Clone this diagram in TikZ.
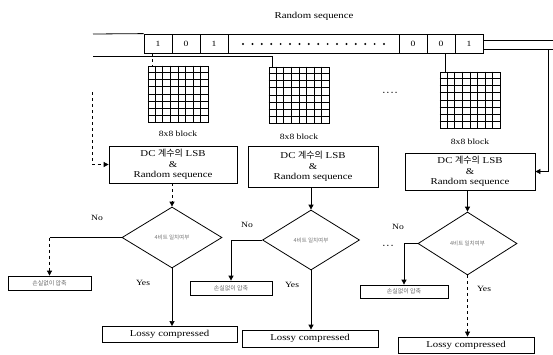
\documentclass[tikz,border=0pt]{standalone}
\usepackage{fontspec}
\setmainfont{Liberation Serif}[FakeStretch=1.2]
\newfontfamily\kr{Noto Sans CJK KR}
\usetikzlibrary{arrows.meta,shapes.geometric,calc}
% 8x8 grid inside a named rectangle node
\newcommand\blockgrid[1]{%
  \foreach \i in {1,...,7}{%
    \draw ($(#1.north west)!\i/8!(#1.north east)$) -- ($(#1.south west)!\i/8!(#1.south east)$);
    \draw ($(#1.north west)!\i/8!(#1.south west)$) -- ($(#1.north east)!\i/8!(#1.south east)$);
  }}
\newcommand\bdots[1]{{\fontsize{5}{5}\selectfont\foreach \j in {1,...,#1}{\textbullet\hspace{2pt}}}}
\begin{document}
\begin{tikzpicture}[x=1pt,y=-1pt,line width=0.8pt,
  every node/.style={font=\fontsize{9}{10.5}\selectfont,inner sep=0pt},
  cell/.style={draw,minimum width=28pt,minimum height=19pt,font=\fontsize{8}{9}\selectfont},
  blk/.style={draw,line width=1pt,minimum width=60pt,minimum height=56pt},
  box/.style={draw,align=center,minimum width=#1},
  dec/.style={draw,diamond,inner sep=0pt,font=\kr\fontsize{5.5}{6}\selectfont,text=black!55},
  small/.style={draw,minimum height=14pt,font=\kr\fontsize{6}{7}\selectfont,text=black!60},
  lossy/.style={draw,minimum height=16pt},
  arr/.style={-{Triangle[length=5pt,width=5pt]}},
  lbl/.style={font=\fontsize{8}{9}\selectfont}]
\useasboundingbox (0,0) rectangle (553,354);

% title and bit tape
\node (title) at (314,16) {Random sequence};
\node[cell] (b1) at (158,43.5) {1};
\node[cell] (b2) at (186,43.5) {0};
\node[cell] (b3) at (214,43.5) {1};
\node[draw,minimum width=171pt,minimum height=19pt] (bd) at (313.5,43.5) {};
\node[cell] (b4) at (413,43.5) {0};
\node[cell] (b5) at (441,43.5) {0};
\node[cell] (b6) at (469,43.5) {1};
\foreach \k in {0,...,15} \fill (243+\k*9.4,44) circle (1.1);

\coordinate (lt) at (93,34);
\coordinate (lb) at (93,56);
\coordinate (r1) at (553,40);
\coordinate (r2) at (553,49);
\draw (lt) -- (b1.north west);
\draw (b6.east |- r1) -- (r1);
\draw (b6.east |- r2) -- (r2);

% 8x8 blocks
\node[blk] (g1) at (178,94) {};
\node[blk] (g2) at (299,95) {};
\node[blk] (g3) at (470,100) {};
\blockgrid{g1}\blockgrid{g2}\blockgrid{g3}
\node[lbl] (l1) at (178,134) {8x8 block};
\node[lbl] (l2) at (299,137) {8x8 block};
\node[lbl] (l3) at (470,142) {8x8 block};
\node (gdots) at (390,93) {\bdots{4}};

\coordinate (t1) at (152,53);
\coordinate (t3) at (445,53);
\draw[dashed] (t1) -- (t1 |- g1.north);
\draw (lb) -| ($(g2.north west)+(4,0)$);
\draw (t3) -- (t3 |- g3.north);

% DC LSB boxes
\node[box=128pt,minimum height=37pt] (c1) at (173,164.5) {DC {\kr 계수의} LSB\\\&\\Random sequence};
\node[box=130pt,minimum height=41pt] (c2) at (313,166.5) {DC {\kr 계수의} LSB\\\&\\Random sequence};
\node[box=130pt,minimum height=37pt] (c3) at (470,171.5) {DC {\kr 계수의} LSB\\\&\\Random sequence};

\coordinate (ls) at (92,92);
\draw[dashed,arr] (ls) |- (c1.west);
\coordinate (rd) at (548,49);
\draw[arr] (rd) |- (c3.east);

% decisions
\node[dec,minimum width=100pt,minimum height=61pt] (d1) at (172,237.5) {4비트 일치여부};
\node[dec,minimum width=97pt,minimum height=60pt] (d2) at (311,240) {4비트 일치여부};
\node[dec,minimum width=99pt,minimum height=63pt] (d3) at (467.5,243.5) {4비트 일치여부};

\draw[dashed,arr] (c1.south -| d1) -- (d1.north);
\draw[arr] (c2.south -| d2) -- (d2.north);
\draw[arr] (c3.south -| d3) -- (d3.north);

% No branches
\node[small,minimum width=83pt] (s1) at (49.5,283) {손실없이 압축};
\node[small,minimum width=82pt] (s2) at (231,288) {손실없이 압축};
\node[small,minimum width=88pt,minimum height=13pt] (s3) at (404,291.5) {손실없이 압축};
\draw (d1.west) -- (d1.west -| s1.north);
\draw[dashed,arr] (d1.west -| s1.north) -- (s1.north);
\draw[arr] (d2.west) -| (s2.north);
\draw[arr] (d3.west) -| (s3.north);
\node[lbl] (n1) at (97,218) {No};
\node[lbl] (n2) at (247,225) {No};
\node[lbl] (n3) at (398,227) {No};
\node (odots) at (388,246) {\bdots{3}};

% Yes branches
\node[lossy,minimum width=135pt] (p1) at (169.5,334.5) {Lossy compressed};
\node[lossy,minimum width=136pt,minimum height=17pt] (p2) at (310,338.5) {Lossy compressed};
\node[lossy,minimum width=136pt] (p3) at (466,345) {Lossy compressed};
\draw[line width=0.6pt,arr] (d1.south) -- (d1.south |- p1.north);
\draw[arr] (d2.south) -- (d2.south |- p2.north);
\draw[dashed,line width=0.6pt,arr] (d3.south) -- (d3.south |- p3.north);
\node[lbl] (y1) at (143,283) {Yes};
\node[lbl] (y2) at (292,285) {Yes};
\node[lbl] (y3) at (484,289) {Yes};
\end{tikzpicture}
\end{document}
